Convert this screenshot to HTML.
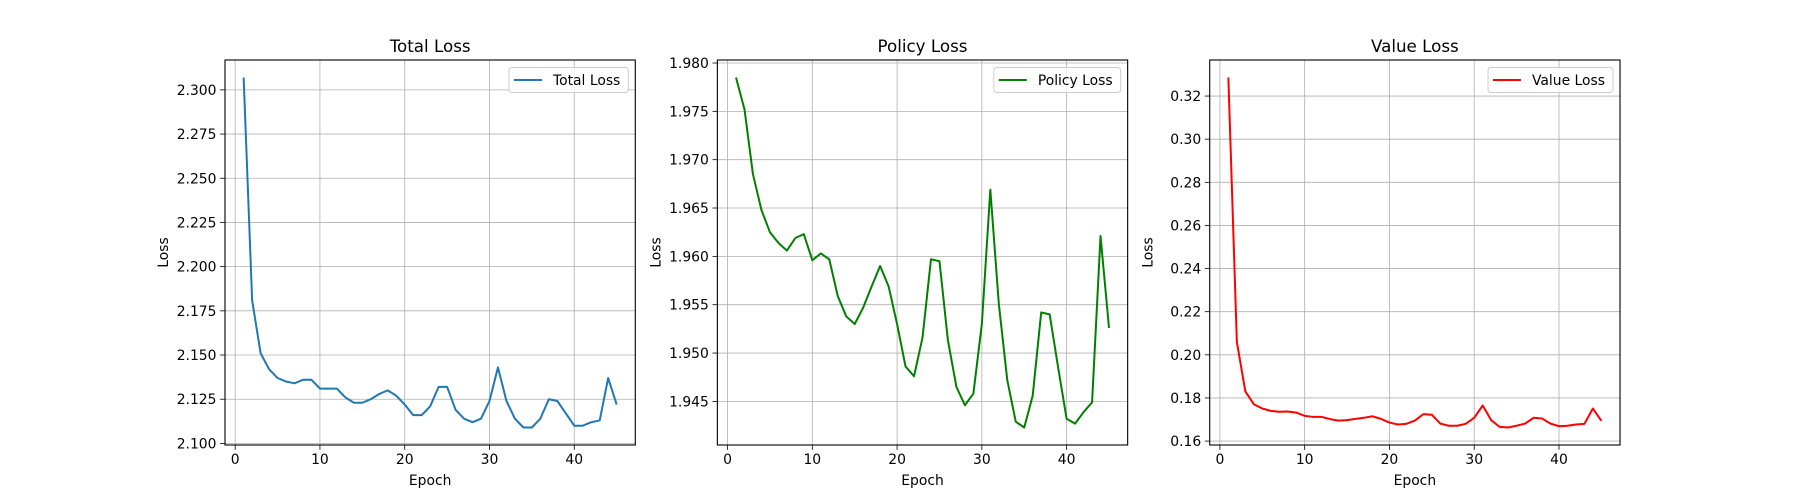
<!DOCTYPE html>
<html><head><meta charset="utf-8"><style>
html,body{margin:0;padding:0;background:#fff}
svg{display:block;font-family:"DejaVu Sans","Liberation Sans",sans-serif}
</style></head><body>
<svg id="fig" width="1800" height="500" xmlns="http://www.w3.org/2000/svg"></svg>
<script>
const epochs = Array.from({length:45},(_,i)=>i+1);
const totalLoss = [2.307,2.181,2.151,2.142,2.137,2.135,2.134,2.136,2.136,2.131,2.131,2.131,2.126,2.123,2.123,2.125,2.128,2.130,2.127,2.122,2.116,2.116,2.121,2.132,2.132,2.119,2.114,2.112,2.114,2.124,2.143,2.124,2.114,2.109,2.109,2.114,2.125,2.124,2.117,2.110,2.110,2.112,2.113,2.137,2.122];
const policyLoss = [1.9785,1.9752,1.9685,1.9648,1.9625,1.9614,1.9606,1.9619,1.9623,1.9596,1.9603,1.9597,1.9559,1.9538,1.9530,1.9547,1.9569,1.9590,1.9569,1.9530,1.9486,1.9476,1.9516,1.9597,1.9595,1.9513,1.9465,1.9446,1.9458,1.9530,1.9669,1.9551,1.9472,1.9429,1.9423,1.9456,1.9542,1.9540,1.9485,1.9432,1.9427,1.9439,1.9449,1.9621,1.9526];
const valueLoss = [0.3286,0.2060,0.1831,0.1771,0.1751,0.1740,0.1736,0.1737,0.1732,0.1717,0.1712,0.1712,0.1702,0.1695,0.1697,0.1703,0.1708,0.1715,0.1703,0.1686,0.1677,0.1680,0.1695,0.1725,0.1722,0.1681,0.1671,0.1671,0.1680,0.1708,0.1765,0.1697,0.1666,0.1663,0.1671,0.1681,0.1708,0.1705,0.1681,0.1669,0.1671,0.1677,0.1680,0.1751,0.1694];
const xTicks = [0,10,20,30,40];
const totalTicks = [2.100,2.125,2.150,2.175,2.200,2.225,2.250,2.275,2.300];
const policyTicks = [1.945,1.950,1.955,1.960,1.965,1.970,1.975,1.980];
const valueTicks = [0.16,0.18,0.20,0.22,0.24,0.26,0.28,0.30,0.32];

const NS="http://www.w3.org/2000/svg";
const svg=document.getElementById('fig');
function mk(tag,attrs,parent){const e=document.createElementNS(NS,tag);for(const k in attrs)e.setAttribute(k,attrs[k]);(parent||svg).appendChild(e);return e;}

const AX_W=410.3, AX_GAP=82.06, AX_TOP=60, AX_BOT=445;
const panels=[
 {key:'total',title:'Total Loss',data:totalLoss,ticks:totalTicks,dec:3,color:'#1f77b4',label:'Total Loss'},
 {key:'policy',title:'Policy Loss',data:policyLoss,ticks:policyTicks,dec:3,color:'#008000',label:'Policy Loss'},
 {key:'value',title:'Value Loss',data:valueLoss,ticks:valueTicks,dec:2,color:'#ff0000',label:'Value Loss'}
];
panels.forEach((p,i)=>{
  const L=225+i*(AX_W+AX_GAP), R=L+AX_W;
  const xmin=1,xmax=45,xm=(xmax-xmin)*0.05;
  const dmin=Math.min(...p.data),dmax=Math.max(...p.data),ym=(dmax-dmin)*0.05;
  const x0=xmin-xm,x1=xmax+xm,y0=dmin-ym,y1=dmax+ym;
  const sx=v=>L+(v-x0)/(x1-x0)*AX_W;
  const sy=v=>AX_BOT-(v-y0)/(y1-y0)*(AX_BOT-AX_TOP);
  const g=mk('g',{});
  
  
  xTicks.forEach(t=>{const x=sx(t);
    const l=mk('line',{x1:x,x2:x,y1:AX_TOP,y2:AX_BOT,stroke:'#b0b0b0','stroke-width':0.8},g);
    
    });
  p.ticks.forEach(t=>{const y=sy(t);
    const l=mk('line',{x1:L,x2:R,y1:y,y2:y,stroke:'#b0b0b0','stroke-width':0.8},g);
    
    });
  const pts=p.data.map((v,k)=>sx(epochs[k]).toFixed(2)+','+sy(v).toFixed(2)).join(' ');
  const pl=mk('polyline',{points:pts,fill:'none',stroke:p.color,'stroke-width':2,'stroke-linejoin':'round'},g);
  
  
  const fr=mk('rect',{x:L,y:AX_TOP,width:AX_W,height:AX_BOT-AX_TOP,fill:'none',stroke:'#000','stroke-width':1.1},g);
  
  
  xTicks.forEach(t=>{const x=sx(t);
    mk('line',{x1:x,x2:x,y1:AX_BOT,y2:AX_BOT+4.9,stroke:'#000','stroke-width':0.8},g);
    const tx=mk('text',{x:x,y:AX_BOT+19,'font-size':13.9,'text-anchor':'middle',fill:'#000'},g);
    tx.textContent=t;
    
    });
  p.ticks.forEach(t=>{const y=sy(t);
    mk('line',{x1:L,x2:L-4.9,y1:y,y2:y,stroke:'#000','stroke-width':0.8},g);
    const tx=mk('text',{x:L-8.5,y:y+5,'font-size':13.9,'text-anchor':'end',fill:'#000'},g);
    tx.textContent=t.toFixed(p.dec);
    
    });
  const ti=mk('text',{x:(L+R)/2,y:52,'font-size':16.7,'text-anchor':'middle',fill:'#000'},g);
  ti.textContent=p.title;
  
  
  const xl=mk('text',{x:(L+R)/2,y:485,'font-size':13.9,'text-anchor':'middle',fill:'#000'},g);
  xl.textContent='Epoch';
  
  
  const yl=mk('text',{x:0,y:0,'font-size':13.9,'text-anchor':'middle',fill:'#000',transform:`translate(${L-57},${(AX_TOP+AX_BOT)/2}) rotate(-90)`},g);
  yl.textContent='Loss';
  
  
  const lg=mk('g',{},g);
  
  
  const box=mk('rect',{x:0,y:67.5,width:10,height:25,rx:3,fill:'#fff','fill-opacity':0.8,stroke:'#cccccc','stroke-width':1},lg);
  const sw=mk('line',{x1:0,x2:0,y1:80,y2:80,stroke:p.color,'stroke-width':2},lg);
  const lt=mk('text',{x:0,y:85,'font-size':13.9,fill:'#000'},lg);
  lt.textContent=p.label;
  let tw=lt.getComputedTextLength();
  if(!tw||tw<10) tw=p.label.length*6.8;
  const bw=tw+52, bx=R-7-bw;
  box.setAttribute('x',bx); box.setAttribute('width',bw);
  sw.setAttribute('x1',bx+5); sw.setAttribute('x2',bx+33);
  lt.setAttribute('x',bx+44);
});
</script>
</body></html>
